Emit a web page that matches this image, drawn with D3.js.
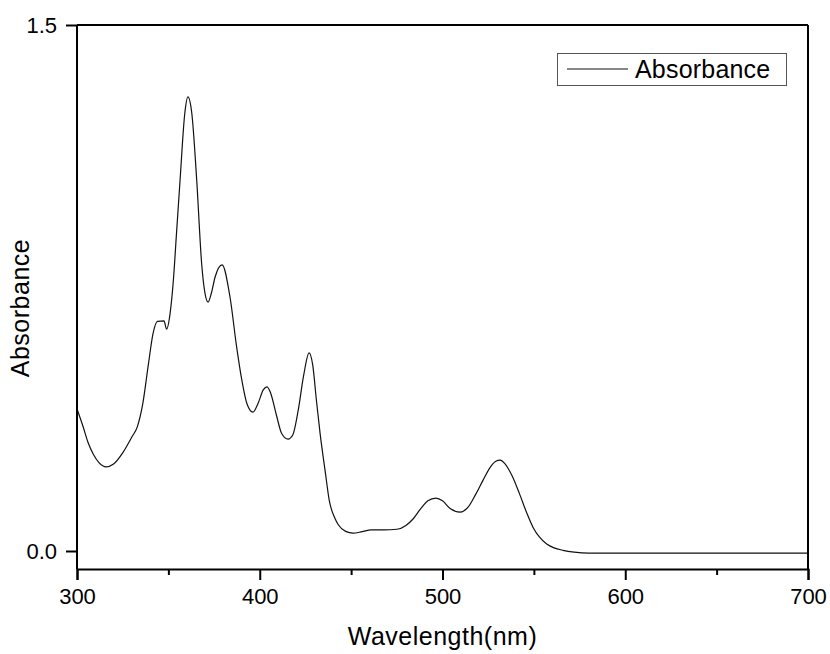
<!DOCTYPE html>
<html>
<head>
<meta charset="utf-8">
<script src="https://cdn.jsdelivr.net/npm/d3@7"></script>
<style>
  body { margin: 0; background: #fff; }
  svg text { font-family: Arial, "Liberation Sans", sans-serif; fill: #000; }
</style>
</head>
<body>
<svg id="chart" width="830" height="654"></svg>
<script>
// wavelength (nm) and absorbance
var wavelength = [300, 303, 306, 309, 312, 316, 320, 325, 330, 333, 336, 339, 341.6, 344, 347.6, 349, 351,
  352.7, 354.5, 356.4, 359, 360.7, 362.8, 365.5, 368.2, 370, 371.7, 373.5, 375.5, 379.4, 383.7, 387.4, 390,
  393, 396.3, 399, 402, 404, 406, 409, 412, 415.5, 418, 421, 424, 427, 429, 431, 433, 436, 438, 441, 443,
  447, 451, 456, 461, 468, 475, 480, 484, 488, 492, 496.4, 500, 504, 509.6, 514, 518, 522, 526, 529, 531.5,
  534, 538, 542, 546, 549.5, 553, 557, 561, 566, 572, 580, 600, 650, 700];
var absorbance = [0.405, 0.36, 0.31, 0.275, 0.252, 0.24, 0.248, 0.28, 0.325, 0.354, 0.42, 0.53, 0.62, 0.655, 0.656, 0.633, 0.68,
  0.77, 0.91, 1.058, 1.249, 1.295, 1.249, 1.058, 0.82, 0.736, 0.71, 0.735, 0.78, 0.816, 0.725, 0.58, 0.493,
  0.42, 0.396, 0.42, 0.46, 0.468, 0.45, 0.39, 0.335, 0.319, 0.33, 0.40, 0.5, 0.565, 0.53, 0.43, 0.336, 0.22, 0.145, 0.095, 0.075,
  0.056, 0.051, 0.055, 0.06, 0.06, 0.062, 0.073, 0.092, 0.12, 0.143, 0.151, 0.143, 0.122, 0.111, 0.125, 0.16, 0.2, 0.238, 0.255, 0.259,
  0.25, 0.215, 0.165, 0.11, 0.068, 0.04, 0.02, 0.009, 0.002, -0.003, -0.006, -0.006, -0.006, -0.006];
var xMajorTicks = [300, 400, 500, 600, 700];
var xMinorTicks = [350, 450, 550, 650];
var yTicks = [0.0, 1.5];
var seriesName = "Absorbance";

var svg = d3.select("#chart");
var plotLeft = 77, plotRight = 808, plotTop = 25, plotBottom = 569;

var x = d3.scaleLinear().domain([300, 700]).range([plotLeft, plotRight]);
var y = d3.scaleLinear().domain([0, 1.5]).range([551, plotTop]);

var data = wavelength.map(function (w, i) { return { w: w, a: absorbance[i] }; });

// curve
var line = d3.line()
  .x(function (d) { return x(d.w); })
  .y(function (d) { return y(d.a); })
  .curve(d3.curveMonotoneX);

svg.append("path")
  .datum(data)
  .attr("d", line)
  .attr("fill", "none")
  .attr("stroke", "#111")
  .attr("stroke-width", 1.2);

// frame top/right
svg.append("line").attr("x1", plotLeft).attr("x2", plotRight).attr("y1", plotTop).attr("y2", plotTop)
  .attr("stroke", "#000").attr("stroke-width", 2);
svg.append("line").attr("x1", plotRight).attr("x2", plotRight).attr("y1", plotTop).attr("y2", plotBottom)
  .attr("stroke", "#000").attr("stroke-width", 2);

// x axis
var xAxis = svg.append("g").attr("transform", "translate(0," + plotBottom + ")")
  .call(d3.axisBottom(x).tickValues(xMajorTicks).tickSize(11).tickPadding(8).tickFormat(d3.format("d")));
xAxis.selectAll(".tick line").attr("stroke-width", 2);
xAxis.select(".domain").attr("stroke-width", 2);
xAxis.selectAll("text").attr("font-size", 22);

var xMinor = svg.append("g").attr("transform", "translate(0," + plotBottom + ")")
  .call(d3.axisBottom(x).tickValues(xMinorTicks).tickSize(6).tickFormat(""));
xMinor.select(".domain").remove();
xMinor.selectAll(".tick line").attr("stroke-width", 2);

// y axis
var yAxis = svg.append("g").attr("transform", "translate(" + plotLeft + ",0)")
  .call(d3.axisLeft(y).tickValues(yTicks).tickSize(11).tickPadding(9).tickFormat(d3.format(".1f")));
yAxis.select(".domain").attr("d", "M0," + plotTop + "V" + plotBottom).attr("stroke-width", 2);
yAxis.selectAll(".tick line").attr("stroke-width", 2);
yAxis.selectAll("text").attr("font-size", 22);

// axis titles
svg.append("text")
  .attr("x", (plotLeft + plotRight) / 2)
  .attr("y", 645)
  .attr("text-anchor", "middle")
  .attr("font-size", 25)
  .attr("letter-spacing", 0.5)
  .text("Wavelength(nm)");

svg.append("text")
  .attr("transform", "translate(29,308) rotate(-90)")
  .attr("text-anchor", "middle")
  .attr("font-size", 25)
  .attr("letter-spacing", 0.5)
  .text("Absorbance");

// legend
var legend = svg.append("g");
legend.append("rect")
  .attr("x", 557.5).attr("y", 53.5).attr("width", 229).attr("height", 32)
  .attr("fill", "#fff").attr("stroke", "#555").attr("stroke-width", 1);
legend.append("line")
  .attr("x1", 567).attr("x2", 628).attr("y1", 69).attr("y2", 69)
  .attr("stroke", "#111").attr("stroke-width", 1.2);
legend.append("text")
  .attr("x", 635).attr("y", 78)
  .attr("font-size", 25)
  .attr("letter-spacing", 0.2)
  .text(seriesName);
</script>
</body>
</html>
